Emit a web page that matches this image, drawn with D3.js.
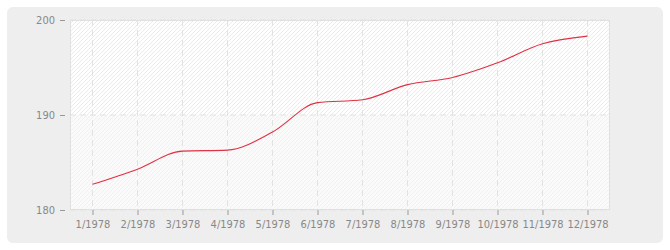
<!DOCTYPE html>
<html>
<head>
  <meta charset="utf-8">
  <title>Population 1978</title>
  <script src="https://cdn.jsdelivr.net/npm/d3@7"></script>
  <style>
    body { margin: 0; background: #fff; }
    .axis text {
      font-family: "DejaVu Sans Condensed", "DejaVu Sans", sans-serif;
      font-size: 11px;
      fill: #888;
    }
    .axis line { stroke: #999; }
    .axis path { display: none; }
    .grid line { stroke: #e2e2e2; stroke-dasharray: 6,4; }
  </style>
</head>
<body>
  <svg id="chart"></svg>

  <script>
    var months = ['1/1978', '2/1978', '3/1978', '4/1978', '5/1978', '6/1978',
      '7/1978', '8/1978', '9/1978', '10/1978', '11/1978', '12/1978'];
    var values = [182.7, 184.3, 186.2, 186.3, 188.2, 191.3,
      191.6, 193.2, 193.95, 195.5, 197.5, 198.3];
    var yTicks = [180, 190, 200];

    var W = 670, H = 250;
    var margin = { top: 20, left: 70, bottom: 40, right: 60 },
      width = W - margin.left - margin.right,
      height = H - margin.top - margin.bottom;

    var root = d3.select('#chart')
      .attr('width', W)
      .attr('height', H);

    // hatch patterns for the two bands
    var defs = root.append('defs');
    function hatch(id, bg, fg) {
      var p = defs.append('pattern')
        .attr('id', id)
        .attr('patternUnits', 'userSpaceOnUse')
        .attr('width', 4)
        .attr('height', 4);
      p.append('rect').attr('width', 4).attr('height', 4).attr('fill', bg);
      p.append('path')
        .attr('d', 'M-1,1 l2,-2 M0,4 l4,-4 M3,5 l2,-2')
        .attr('stroke', fg)
        .attr('stroke-width', 1);
    }
    hatch('hatchA', '#ffffff', '#ebebeb');
    hatch('hatchB', '#fafafa', '#f1f1f1');

    // outer panel
    root.append('rect')
      .attr('x', 7).attr('y', 7)
      .attr('width', 656).attr('height', 236)
      .attr('rx', 6)
      .attr('fill', '#eeeeee');

    var svg = root.append('g')
      .attr('transform', 'translate(' + margin.left + ',' + margin.top + ')');

    var x = d3.scalePoint()
      .domain(months)
      .range([0, width])
      .padding(0.5);

    var y = d3.scaleLinear()
      .domain([180, 200])
      .range([height, 0]);

    // bands
    svg.append('rect')
      .attr('x', 0).attr('y', y(200))
      .attr('width', width).attr('height', y(190) - y(200))
      .attr('fill', 'url(#hatchA)');
    svg.append('rect')
      .attr('x', 0).attr('y', y(190))
      .attr('width', width).attr('height', y(180) - y(190))
      .attr('fill', 'url(#hatchB)');

    // grid
    var grid = svg.append('g').attr('class', 'grid');
    grid.selectAll('.vx')
      .data(months)
      .enter()
      .append('line')
      .attr('x1', d => x(d)).attr('x2', d => x(d))
      .attr('y1', 0).attr('y2', height);
    grid.selectAll('.hy')
      .data(yTicks)
      .enter()
      .append('line')
      .attr('x1', 0).attr('x2', width)
      .attr('y1', d => y(d)).attr('y2', d => y(d));

    // border of plot area
    svg.append('rect')
      .attr('x', 0.5).attr('y', 0.5)
      .attr('width', width - 1).attr('height', height - 1)
      .attr('fill', 'none')
      .attr('stroke', '#e0e0e0');

    var line = d3.line()
      .x((d, i) => x(months[i]))
      .y(d => y(d))
      .curve(d3.curveMonotoneX);

    svg.append('path')
      .datum(values)
      .attr('fill', 'none')
      .attr('stroke', '#dd3344')
      .attr('stroke-width', 1.1)
      .attr('d', line);

    svg.append('g')
      .attr('class', 'axis')
      .attr('transform', 'translate(0,' + height + ')')
      .call(d3.axisBottom(x).tickSize(5).tickPadding(5));

    svg.append('g')
      .attr('class', 'axis')
      .attr('transform', 'translate(-5,0)')
      .call(d3.axisLeft(y).tickValues(yTicks).tickSize(5).tickPadding(5).tickSizeOuter(0));
  </script>
</body>
</html>
